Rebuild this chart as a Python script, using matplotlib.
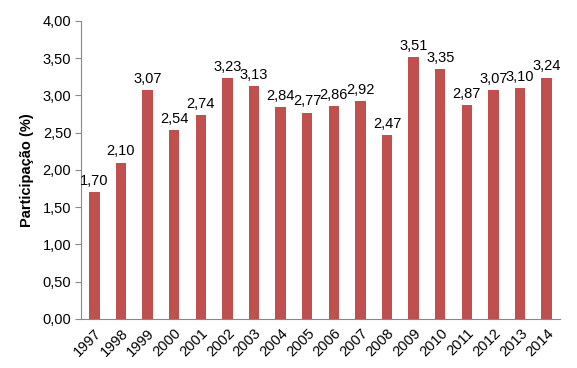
import matplotlib
matplotlib.use("Agg")
import matplotlib.pyplot as plt

plt.rcParams["font.family"] = ["Liberation Sans", "DejaVu Sans"]

# ── Data ──────────────────────────────────────────────
years = [str(y) for y in range(1997, 2015)]
values = [1.70, 2.10, 3.07, 2.54, 2.74, 3.23, 3.13, 2.84, 2.77,
          2.86, 2.92, 2.47, 3.51, 3.35, 2.87, 3.07, 3.10, 3.24]
yticks = [0, 0.5, 1.0, 1.5, 2.0, 2.5, 3.0, 3.5, 4.0]

fmt = lambda v: f"{v:.2f}".replace(".", ",")

fig = plt.figure(figsize=(5.77, 3.68), dpi=100)
ax = fig.add_axes([0.1404, 0.1332, 0.8301, 0.8098])

x = range(len(years))
ax.bar(x, values, width=0.39, color="#C0504D", zorder=2)
for xi, v in zip(x, values):
    ax.annotate(fmt(v), (xi, v), xytext=(0, 3), textcoords="offset points",
                ha="center", va="bottom", fontsize=10.5)

ax.set_xlim(-0.5, len(years) - 0.5)
ax.set_ylim(0, 4)
ax.set_yticks(yticks)
ax.set_yticklabels([fmt(v) for v in yticks], fontsize=10.5)
ax.set_xticks(list(x))
ax.set_xticklabels(years, rotation=45, ha="right", rotation_mode="anchor", fontsize=10.5)
ax.tick_params(axis="x", length=0, pad=5)
ax.tick_params(axis="y", length=4, color="#888888", direction="out", pad=3)
ax.set_ylabel("Participação (%)", fontsize=10.5, fontweight="bold", labelpad=6)

for s in ["top", "right"]:
    ax.spines[s].set_visible(False)
for s in ["left", "bottom"]:
    ax.spines[s].set_color("#888888")

fig.savefig("out.png", dpi=100)
